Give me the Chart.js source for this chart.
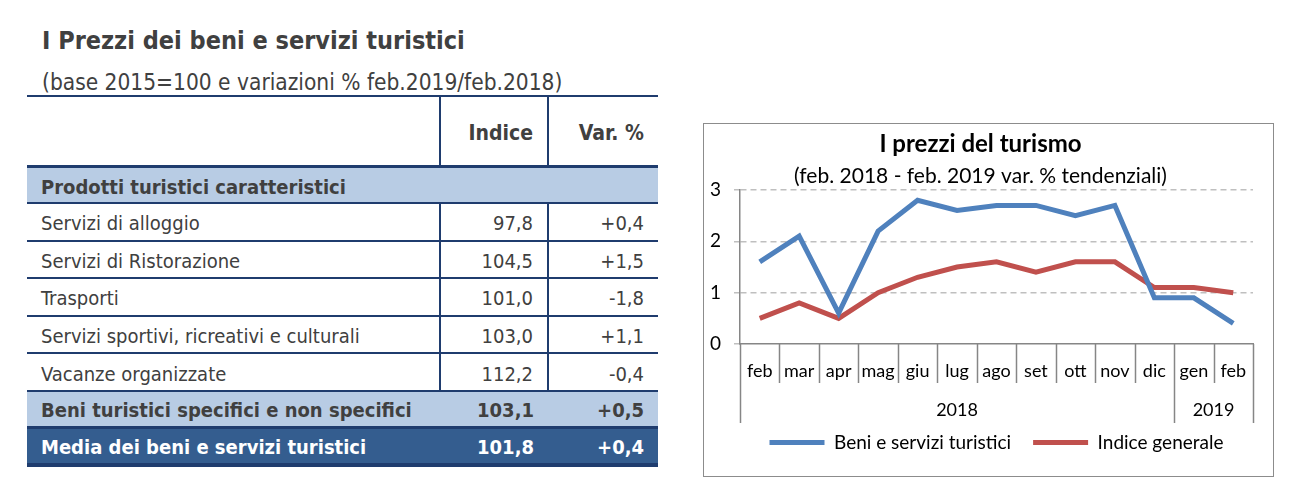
<!DOCTYPE html>
<html lang="it">
<head>
  <meta charset="UTF-8" />
  <title>I Prezzi dei beni e servizi turistici</title>
  <script src="https://cdn.jsdelivr.net/npm/chart.js"></script>
  <style>
    body {
      margin: 0;
      width: 1302px;
      height: 501px;
      background: #fff;
      position: relative;
      overflow: hidden;
    }

    #left {
      position: absolute;
      left: 27px;
      top: 0;
      width: 631px;
      font-family: "DejaVu Sans Condensed", "DejaVu Sans", sans-serif;
      color: #404040;
    }

    h1 {
      position: absolute;
      left: 15px;
      top: 26px;
      margin: 0;
      font-size: 25px;
      font-weight: bold;
      white-space: nowrap;
    }

    .sub {
      position: absolute;
      left: 15px;
      top: 69px;
      font-size: 22.5px;
      white-space: nowrap;
    }

    table {
      position: absolute;
      left: 0;
      top: 95px;
      width: 631px;
      table-layout: fixed;
      border-collapse: collapse;
      font-size: 20px;
      border-top: 2px solid #1f3c6e;
    }

    td {
      height: 32.6px;
      padding: 3px 14px 0 14px;
      border-bottom: 2px solid #1f3c6e;
      white-space: nowrap;
    }

    td.num { text-align: right; border-left: 2px solid #1f3c6e; }
    tr.head td { height: 65px; font-weight: bold; font-size: 21px; text-align: right; border-bottom: 3px solid #1f3c6e; }
    tr.band td { background: #b8cce4; font-weight: bold; height: 31px; }
    tr.band td.num { border-left: none; }
    tr.total td { background: #345d8f; color: #fff; font-weight: bold; border-top: 3px solid #1f3c6e; border-bottom: 4px solid #1f3c6e; border-left: none; height: 31px; }

    #chartBox {
      position: absolute;
      left: 703px;
      top: 123px;
      width: 569px;
      height: 352px;
      border: 1px solid #8c8c8c;
    }
  </style>
</head>
<body>
  <div id="left">
    <h1>I Prezzi dei beni e servizi turistici</h1>
    <div class="sub">(base 2015=100 e variazioni % feb.2019/feb.2018)</div>
    <table id="tab">
      <colgroup><col style="width:413px"><col style="width:108px"><col style="width:110px"></colgroup>
    </table>
  </div>

  <div id="chartBox">
    <canvas id="turismoChart" width="569" height="352"></canvas>
  </div>

  <script>
    // Tabella
    const rowNames = ['Servizi di alloggio', 'Servizi di Ristorazione', 'Trasporti',
                      'Servizi sportivi, ricreativi e culturali', 'Vacanze organizzate'];
    const rowIndice = ['97,8', '104,5', '101,0', '103,0', '112,2'];
    const rowVar = ['+0,4', '+1,5', '-1,8', '+1,1', '-0,4'];
    const beniRow = ['Beni turistici specifici e non specifici', '103,1', '+0,5'];
    const mediaRow = ['Media dei beni e servizi turistici', '101,8', '+0,4'];

    // Grafico
    const mesi = ['feb', 'mar', 'apr', 'mag', 'giu', 'lug', 'ago', 'set', 'ott', 'nov', 'dic', 'gen', 'feb'];
    const anni = ['2018', '2019'];
    const mesiPerAnno = [11, 2];
    const beniServizi = [1.6, 2.1, 0.6, 2.2, 2.8, 2.6, 2.7, 2.7, 2.5, 2.7, 0.9, 0.9, 0.4];
    const indiceGenerale = [0.5, 0.8, 0.5, 1.0, 1.3, 1.5, 1.6, 1.4, 1.6, 1.6, 1.1, 1.1, 1.0];

    let html = '<tr class="head"><td></td><td class="num">Indice</td><td class="num">Var. %</td></tr>';
    html += '<tr class="band"><td colspan="3">Prodotti turistici caratteristici</td></tr>';
    rowNames.forEach((n, i) => {
      html += `<tr><td>${n}</td><td class="num">${rowIndice[i]}</td><td class="num">${rowVar[i]}</td></tr>`;
    });
    html += `<tr class="band"><td>${beniRow[0]}</td><td class="num">${beniRow[1]}</td><td class="num">${beniRow[2]}</td></tr>`;
    html += `<tr class="total"><td>${mediaRow[0]}</td><td class="num">${mediaRow[1]}</td><td class="num">${mediaRow[2]}</td></tr>`;
    document.getElementById('tab').insertAdjacentHTML('beforeend', html);

    const axisColor = '#868686';
    const font = 'Lato';

    // separatori e anni sotto l'asse x
    const groupAxis = {
      id: 'groupAxis',
      afterDraw(chart) {
        const ctx = chart.ctx;
        const x = chart.scales.x;
        const top = x.top;
        const step = (x.right - x.left) / mesi.length;
        ctx.save();
        ctx.strokeStyle = axisColor;
        ctx.lineWidth = 1.5;
        const ends = [0];
        let acc = 0;
        mesiPerAnno.forEach(n => { acc += n; ends.push(acc); });
        for (let i = 0; i <= mesi.length; i++) {
          const px = Math.round(x.left + i * step) + 0.5;
          const long = ends.includes(i);
          ctx.beginPath();
          ctx.moveTo(px, top);
          ctx.lineTo(px, top + (long ? 79 : 39));
          ctx.stroke();
        }
        ctx.fillStyle = '#000';
        ctx.font = '18px ' + font;
        ctx.textAlign = 'center';
        ctx.textBaseline = 'middle';
        anni.forEach((a, k) => {
          const cx = x.left + (ends[k] + ends[k + 1]) / 2 * step;
          ctx.fillText(a, cx, top + 66);
        });
        ctx.restore();
      }
    };

    new Chart(document.getElementById('turismoChart'), {
      type: 'line',
      data: {
        labels: mesi,
        datasets: [
          { label: 'Beni e servizi turistici', data: beniServizi, borderColor: '#4f81bd', backgroundColor: '#4f81bd', borderWidth: 5, pointRadius: 0, tension: 0 },
          { label: 'Indice generale', data: indiceGenerale, borderColor: '#c0504d', backgroundColor: '#c0504d', borderWidth: 5, pointRadius: 0, tension: 0 }
        ]
      },
      options: {
        responsive: false,
        animation: false,
        layout: { padding: { left: 4, right: 20, top: 6, bottom: 14 } },
        plugins: {
          title: {
            display: true,
            text: 'I prezzi del turismo',
            color: '#000',
            font: { family: font, size: 24, weight: 'bold' },
            padding: { top: 0, bottom: 5 }
          },
          subtitle: {
            display: true,
            text: '(feb. 2018 - feb. 2019 var. % tendenziali)',
            color: '#000',
            font: { family: font, size: 21 },
            padding: { top: 0, bottom: 1 }
          },
          legend: {
            position: 'bottom',
            fullSize: false,
            labels: {
              color: '#000',
              font: { family: font, size: 19 },
              usePointStyle: true,
              pointStyle: 'line',
              pointStyleWidth: 55,
              boxWidth: 55,
              padding: 22
            }
          },
          tooltip: { enabled: false }
        },
        scales: {
          x: {
            offset: true,
            grid: { display: false, drawTicks: false },
            border: { color: axisColor, width: 1.5 },
            ticks: { color: '#000', font: { family: font, size: 18 }, padding: 16, maxRotation: 0, autoSkip: false },
            afterFit(s) { s.height = 67; }
          },
          y: {
            min: 0,
            max: 3,
            ticks: { stepSize: 1, color: '#000', font: { family: font, size: 19 }, padding: 13 },
            grid: {
              color: c => c.tick.value === 0 ? 'rgba(0,0,0,0)' : '#bfbfbf',
              lineWidth: 1.5,
              tickLength: 6,
              tickColor: '#bfbfbf',
              drawTicks: true
            },
            border: { color: axisColor, width: 1.5, dash: [6, 4] },
            afterFit(s) { s.width = 32; }
          }
        }
      },
      plugins: [groupAxis]
    });
  </script>
</body>
</html>
